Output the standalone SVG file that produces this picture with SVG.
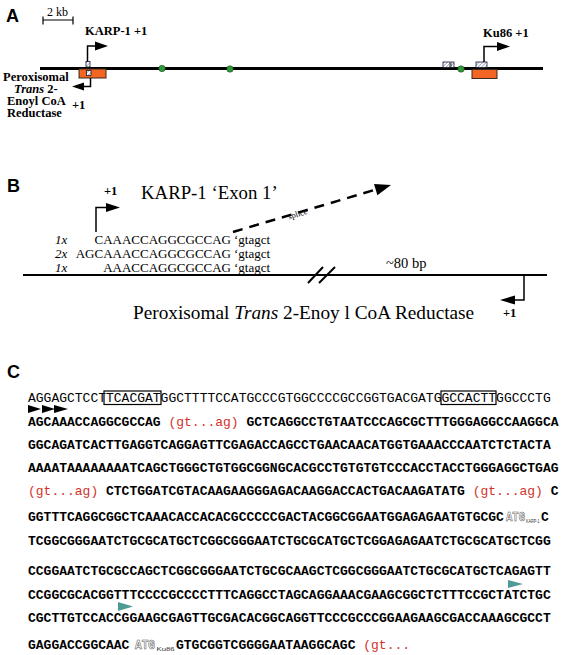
<svg xmlns="http://www.w3.org/2000/svg" width="574" height="655" viewBox="0 0 574 655">
<style>
.lbl{font-family:"Liberation Sans",Arial,sans-serif;font-weight:bold;font-size:18px;fill:#000}
.sb{font-family:"Liberation Serif","Times New Roman",serif;font-weight:bold;font-size:12.5px;fill:#000}
.sr{font-family:"Liberation Serif","Times New Roman",serif;fill:#000}
.mono{font-family:"Liberation Mono","Courier New",monospace;font-size:13px;fill:#000}
.mb{font-weight:bold}
.red{fill:#d2322b;font-weight:normal}
.ln{stroke:#000;fill:none}
.orange{fill:#f26522;stroke:#3a2a20;stroke-width:1}
.hb{fill:url(#hatch);stroke:#1a1a2a;stroke-width:0.8}
.dot{fill:#2f9a3a;stroke:#1c4a1c;stroke-width:0.6}
.teal{fill:#4f9a94}
.atg{font-family:"Liberation Mono","Courier New",monospace;font-weight:bold;font-size:13px;fill:#fff;stroke:#555;stroke-width:0.6}
.sub{font-family:"Liberation Sans",Arial,sans-serif;font-size:5px;fill:#333}
</style>
<defs>
<pattern id="hatch" width="2.5" height="2.5" patternUnits="userSpaceOnUse" patternTransform="rotate(45)">
<rect width="2.5" height="2.5" fill="#fff"/>
<line x1="0" y1="0" x2="0" y2="2.5" stroke="#5b6b9a" stroke-width="1"/>
</pattern>
</defs>
<rect width="574" height="655" fill="#fff"/>

<!-- Panel A -->
<g id="panelA">
<text class="lbl" x="6" y="22">A</text>
<g id="scalebar">
<text class="sr" x="47" y="16" font-size="12">2 kb</text>
<path class="ln" stroke-width="1.2" d="M43,20H73M43,16.5V24.5M73,16.5V24.5"/>
</g>
<g id="chromosome">
<line class="ln" x1="40" y1="68.5" x2="543" y2="68.5" stroke-width="3"/>
</g>
<g id="karp1-gene">
<rect class="orange" x="79" y="69" width="27" height="9"/>
<rect class="hb" x="86" y="61.5" width="4" height="5.5"/>
<rect class="hb" x="86.5" y="70.5" width="4.5" height="5"/>
</g>
<g id="dots">
<circle class="dot" cx="162" cy="68.5" r="3.2"/>
<circle class="dot" cx="230" cy="69" r="3.2"/>
<circle class="dot" cx="461" cy="69" r="3.2"/>
</g>
<g id="ku86-gene">
<rect class="hb" x="443" y="62" width="7" height="5.5"/>
<rect class="hb" x="451" y="62" width="3" height="5.5"/>
<rect class="orange" x="472" y="69.5" width="25" height="9"/>
<rect class="hb" x="476" y="62" width="11" height="5.5"/>
</g>
<g id="karp1-label">
<text class="sb" x="85" y="35">KARP-1 +1</text>
</g>
<g id="ku86-label">
<text class="sb" x="483" y="36.5">Ku86 +1</text>
</g>
<g id="pecr-label">
<text class="sb" x="3" y="80.5">Peroxisomal</text>
<text class="sb" x="14" y="92.5"><tspan font-style="italic">Trans</tspan> 2-</text>
<text class="sb" x="7" y="104.5">Enoyl CoA</text>
<text class="sb" x="72" y="108.5">+1</text>
<text class="sb" x="7" y="116.5">Reductase</text>
</g>
</g>

<!-- Panel B -->
<g id="panelB">
<text class="lbl" x="7" y="192">B</text>
<text class="sb" x="104" y="195" font-size="11.5">+1</text>
<text class="sr" x="141" y="199" font-size="18.8">KARP-1 ‘Exon 1’</text>
<g id="seqs" class="sr" font-size="13">
<text x="55" y="244" font-style="italic">1x</text>
<text x="55" y="258" font-style="italic">2x</text>
<text x="55" y="272" font-style="italic">1x</text>
<text x="231" y="244" text-anchor="end">CAAACCAGGCGCCAG</text>
<text x="231" y="258" text-anchor="end">AGCAAACCAGGCGCCAG</text>
<text x="231" y="272" text-anchor="end">AAACCAGGCGCCAG</text>
<text x="234" y="244">‘gtagct</text>
<text x="234" y="258">‘gtagct</text>
<text x="234" y="272">‘gtagct</text>
</g>
<g id="genomic-line">
<line class="ln" x1="23" y1="275" x2="547" y2="275" stroke-width="2"/>
<path class="ln" stroke-width="2" d="M308,283L323,267M319,283L335,267"/>
<text class="sr" x="386" y="268" font-size="14.5">~80 bp</text>
</g>
<text class="sr" x="133" y="319" font-size="19.3">Peroxisomal <tspan font-style="italic">Trans</tspan> 2-Enoy l CoA Reductase</text>
<text class="sb" x="503" y="317" font-size="11.5">+1</text>
</g>

<!-- Connectors -->
<g id="connectors">
<path class="ln" stroke-width="1.5" d="M87.5,61.5V46H96"/>
<polygon points="95,41.5 108,46 95,50.5"/>
<path class="ln" stroke-width="1.5" d="M90.5,78V86.5H83"/>
<polygon points="84,82.5 72,86.5 84,90.5"/>
<path class="ln" stroke-width="1.5" d="M484,62V46.5H498"/>
<polygon points="497,42 510,46.5 497,51"/>
<path class="ln" stroke-width="1.5" d="M96,232V207.5H107"/>
<polygon points="106,203 120,207.5 106,212"/>
<path class="ln" stroke-width="1.5" d="M524,275V300H514"/>
<polygon points="515,295.5 500,300 515,304.5"/>
<line class="ln" x1="233" y1="232" x2="377" y2="189.2" stroke-width="2.5" stroke-dasharray="10,7"/>
<polygon points="391,185 377.4,195.3 374,183.9"/>
<text class="sr" font-size="8.5" transform="translate(289,219.5) rotate(-17)">splice</text>
</g>

<!-- Panel C -->
<g id="panelC">
<text class="lbl" x="7" y="378">C</text>
<g id="seq-text" class="mono">
<text x="28" y="402">AGGAGCTCCTTCACGATGGCTTTTCCATGCCCGTGGCCCCGCCGGTGACGATGGCCACTTGGCCCTG</text>
<text class="mb" x="28" y="426">AGCAAACCAGGCGCCAG <tspan class="red">(gt...ag)</tspan> GCTCAGGCCTGTAATCCCAGCGCTTTGGGAGGCCAAGGCA</text>
<text class="mb" x="28" y="449">GGCAGATCACTTGAGGTCAGGAGTTCGAGACCAGCCTGAACAACATGGTGAAACCCAATCTCTACTA</text>
<text class="mb" x="28" y="472">AAAATAAAAAAAATCAGCTGGGCTGTGGCGGNGCACGCCTGTGTGTCCCACCTACCTGGGAGGCTGAG</text>
<text class="mb" x="28" y="495"><tspan class="red">(gt...ag)</tspan> CTCTGGATCGTACAAGAAGGGAGACAAGGACCACTGACAAGATATG <tspan class="red">(gt...ag)</tspan> C</text>
<text class="mb" x="28" y="521">GGTTTCAGGCGGCTCAAACACCACACGCCCCCGACTACGGCGGAATGGAGAGAATGTGCGC</text>
<text class="mb" x="541" y="521">C</text>
<text class="mb" x="28" y="545">TCGGCGGGAATCTGCGCATGCTCGGCGGGAATCTGCGCATGCTCGGAGAGAATCTGCGCATGCTCGG</text>
<text class="mb" x="28" y="575">CCGGAATCTGCGCCAGCTCGGCGGGAATCTGCGCAAGCTCGGCGGGAATCTGCGCATGCTCAGAGTT</text>
<text class="mb" x="28" y="599">CCGGCGCACGGTTTCCCCGCCCCTTTCAGGCCTAGCAGGAAACGAAGCGGCTCTTTCCGCTATCTGC</text>
<text class="mb" x="28" y="622">CGCTTGTCCACCGGAAGCGAGTTGCGACACGGCAGGTTCCCGCCCGGAAGAAGCGACCAAAGCGCCT</text>
<text class="mb" x="28" y="649">GAGGACCGGCAAC</text>
<text class="mb" x="176" y="649">GTGCGGTCGGGGAATAAGGCAGC <tspan class="red">(gt...</tspan></text>
</g>
<g id="atg-karp1">
<text class="atg" x="506" y="521" textLength="19" lengthAdjust="spacingAndGlyphs">ATG</text>
<text class="sub" x="526" y="522.5" textLength="13.5" lengthAdjust="spacingAndGlyphs">KARP-1</text>
</g>
<g id="atg-ku86">
<text class="atg" x="135" y="649" textLength="20" lengthAdjust="spacingAndGlyphs">ATG</text>
<text class="sub" x="156.5" y="650.5" font-size="6.5" textLength="18" lengthAdjust="spacingAndGlyphs">Ku86</text>
</g>
<g id="boxes" class="ln" stroke-width="1.2">
<rect x="104" y="391" width="57" height="13.5"/>
<rect x="441" y="391" width="55" height="13.5"/>
</g>
<g id="markers">
<polygon points="28,405 41,409 28,413"/>
<polygon points="42,405 55,409 42,413"/>
<polygon points="54,405 68,409 54,413"/>
<polygon class="teal" points="508,580 523,584 508,588"/>
<polygon class="teal" points="118,602 133,606.5 118,611"/>
</g>
</g>
</svg>
